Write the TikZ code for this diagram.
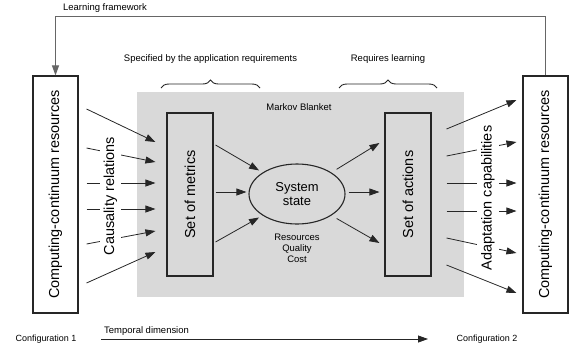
\documentclass[tikz,border=0pt]{standalone}
\usepackage{fontspec}
\setmainfont{Liberation Sans}
\usetikzlibrary{shapes.geometric,arrows.meta,decorations.pathreplacing,calc}

\newcommand{\bigtxt}{\fontsize{14.5}{17}\selectfont}
\newcommand{\smalltxt}{\fontsize{9.5}{11}\selectfont}

\begin{document}
\begin{tikzpicture}[x=1bp,y=-1bp,
    box/.style={draw=black!85,line width=1.1bp,inner sep=0pt,font=\bigtxt},
    conn/.style={draw=black!85,line width=0.8bp,-{Triangle[length=10bp,width=7bp]}},
    lbl/.style={font=\smalltxt,inner sep=1bp},
    gap/.style={rotate=90,fill=white,inner sep=3.5bp,font=\bigtxt}]
    \useasboundingbox (0,0) rectangle (586,346);

    % Markov blanket
    \node[fill=gray!30,inner sep=0pt,minimum width=327bp,minimum height=205bp] (blanket) at (300.5,194.5) {};
    \node[lbl] (mb) at (299,107) {Markov Blanket};

    % boxes
    \node[box,minimum width=45bp,minimum height=237bp] (resL) at (55.5,194.5) {\rotatebox{90}{Computing-continuum resources}};
    \node[box,minimum width=45bp,minimum height=237bp] (resR) at (545.5,194.5) {\rotatebox{90}{Computing-continuum resources}};
    \node[box,minimum width=46bp,minimum height=163bp] (metrics) at (190,194.5) {\rotatebox{90}{Set of metrics}};
    \node[box,minimum width=46bp,minimum height=163bp] (actions) at (408,194.5) {\rotatebox{90}{Set of actions}};
    \node[box,ellipse,minimum width=96bp,minimum height=60bp,align=center,font=\fontsize{13}{14.5}\selectfont] (state) at (297,194) {System\\state};
    \node[lbl,align=center] (rqc) at (297,248) {Resources\\Quality\\Cost};

    % braces
    \coordinate (b1l) at (161,88);
    \coordinate (b1r) at (260,88);
    \coordinate (b2l) at (339,88);
    \coordinate (b2r) at (437,88);
    \draw[black!85,line width=0.9bp,decorate,decoration={brace,amplitude=8bp}] (b1l) -- (b1r);
    \draw[black!85,line width=0.9bp,decorate,decoration={brace,amplitude=8bp}] (b2l) -- (b2r);
    \node[lbl] (spec) at (210.5,59) {Specified by the application requirements};
    \node[lbl] (reql) at (388,59) {Requires learning};

    % learning framework loop
    \draw[conn,draw=black!60] (resR.north) -- ++(0,-59) -| (resL.north);
    \node[lbl,anchor=west] (lf) at (62,8) {Learning framework};

    % causality relations
    \foreach \ys/\ye in {109/142,148/162,183/183,209/209,244/231,283/252}
        \draw[conn] ($(resL.east |- 0,\ys)+(8,0)$) -- ($(metrics.west |- 0,\ye)+(-11,0)$);
    \node[gap] (caus) at (110.5,196) {Causality relations};

    % metrics -> state -> actions
    \draw[conn,shorten >=4bp] ($(metrics.east |- 0,145)+(2,0)$) -- (state.148);
    \draw[conn,shorten >=2bp] ($(metrics.east |- 0,192)+(2,0)$) -- (state.west |- 0,192);
    \draw[conn,shorten >=4bp] ($(metrics.east |- 0,242)+(2,0)$) -- (state.212);
    \draw[conn,shorten <=6bp] (state.32) -- ($(actions.west |- 0,143)+(-5,0)$);
    \draw[conn,shorten <=3bp] (state.east |- 0,192) -- ($(actions.west |- 0,192)+(-5,0)$);
    \draw[conn,shorten <=6bp] (state.328) -- ($(actions.west |- 0,243)+(-5,0)$);

    % adaptation capabilities
    \foreach \ys/\ye in {129/100,156/142,183/183,211/211,238/253,265/293}
        \draw[conn] ($(actions.east |- 0,\ys)+(15,0)$) -- ($(resR.west |- 0,\ye)+(-6,0)$);
    \node[gap,inner sep=4bp] (adapt) at (488,198) {Adaptation capabilities};

    % temporal dimension
    \node[lbl,font=\fontsize{9}{11}\selectfont] (cfg1) at (46,339) {Configuration 1};
    \node[lbl,font=\fontsize{9}{11}\selectfont] (cfg2) at (487,339) {Configuration 2};
    \coordinate (t0) at (101,339);
    \coordinate (t1) at (428,339);
    \draw[conn] (t0) -- (t1);
    \node[lbl,anchor=west] (tdim) at (103,331) {Temporal dimension};
\end{tikzpicture}
\end{document}
